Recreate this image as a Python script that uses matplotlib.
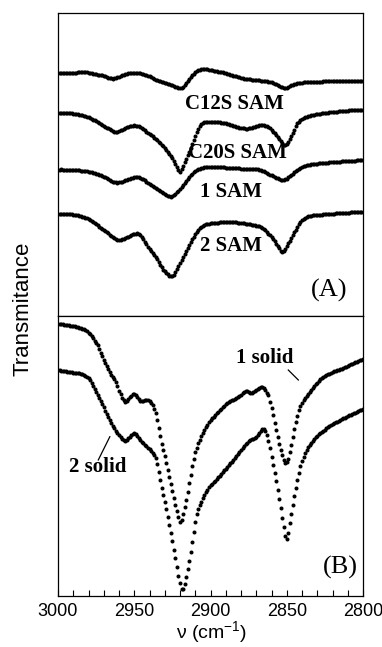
import numpy as np
import matplotlib
matplotlib.use('Agg')
import matplotlib.pyplot as plt

# wavenumber axis (cm-1), one point per cm-1
wavenumber = list(range(3000, 2799, -1))

# Panel A: SAM spectra (transmittance, arbitrary units, offset)
c12s_sam = [
    243.0, 243.0, 243.2, 243.0, 242.8, 243.0, 243.2, 243.0, 243.0, 243.2,
    243.0, 243.2, 243.4, 243.6, 243.8, 244.0, 244.0, 243.9, 243.8, 243.6,
    243.5, 243.2, 242.8, 242.4, 242.0, 241.6, 241.3, 241.1, 241.0, 240.6,
    240.1, 239.6, 239.0, 238.5, 238.0, 237.7, 237.5, 237.6, 238.0, 238.6,
    239.3, 240.0, 240.8, 241.4, 242.0, 242.5, 242.9, 243.2, 243.4, 243.5,
    243.5, 243.4, 243.2, 243.0, 242.6, 242.2, 241.8, 241.5, 241.0, 240.4,
    239.8, 239.0, 238.2, 237.2, 236.5, 236.0, 235.5, 235.0, 234.5, 234.0,
    233.5, 233.0, 232.5, 232.0, 231.3, 230.6, 229.9, 229.2, 228.6, 228.0,
    227.8, 228.2, 229.5, 231.3, 233.2, 235.1, 237.0, 238.9, 240.7, 242.4,
    244.0, 245.0, 245.8, 246.5, 247.0, 247.2, 247.2, 247.0, 246.7, 246.4,
    246.0, 245.7, 245.4, 245.1, 244.8, 244.5, 244.2, 244.0, 243.6, 243.1,
    242.7, 242.2, 241.8, 241.3, 240.9, 240.5, 240.1, 239.6, 239.2, 238.7,
    238.3, 237.9, 237.5, 237.3, 237.1, 236.9, 236.7, 236.5, 236.3, 236.1,
    236.0, 235.8, 235.6, 235.4, 235.2, 235.0, 234.8, 234.6, 234.5, 234.1,
    233.6, 233.0, 232.3, 231.6, 231.0, 230.2, 229.4, 228.6, 228.0, 228.0,
    228.5, 229.2, 230.0, 230.6, 231.2, 231.7, 232.2, 232.6, 233.0, 233.2,
    233.4, 233.6, 233.7, 233.8, 233.9, 234.0, 234.1, 234.2, 234.3, 234.3,
    234.4, 234.4, 234.5, 234.5, 234.6, 234.6, 234.7, 234.7, 234.8, 234.8,
    234.8, 234.9, 234.9, 235.0, 235.0, 235.0, 235.1, 235.1, 235.2, 235.2,
    235.2, 235.3, 235.3, 235.3, 235.4, 235.4, 235.4, 235.5, 235.5, 235.5,
    235.5]

c20s_sam = [
    203.5, 203.5, 203.4, 203.3, 203.2, 203.0, 202.9, 202.8, 202.7, 202.6,
    202.5, 202.3, 202.0, 201.7, 201.4, 201.1, 200.7, 200.4, 200.0, 199.4,
    198.8, 198.1, 197.3, 196.5, 195.8, 195.0, 194.1, 193.2, 192.2, 191.3,
    190.3, 189.4, 188.5, 187.6, 186.6, 185.6, 184.7, 184.0, 184.0, 184.3,
    184.9, 185.7, 186.5, 187.3, 188.0, 188.8, 189.5, 190.0, 190.3, 190.5,
    190.6, 190.5, 190.4, 190.0, 189.0, 188.0, 187.0, 185.8, 184.5, 183.3,
    182.0, 180.8, 179.6, 178.4, 177.2, 176.0, 174.4, 172.8, 171.2, 169.6,
    168.0, 166.0, 164.0, 162.0, 160.0, 158.0, 155.5, 152.5, 149.5, 146.5,
    144.5, 147.0, 150.5, 154.0, 157.5, 161.0, 164.5, 168.0, 172.0, 176.0,
    180.0, 184.0, 187.5, 190.0, 192.0, 193.2, 194.0, 194.4, 194.5, 194.5,
    194.4, 194.3, 194.2, 194.1, 194.0, 194.0, 193.8, 193.5, 193.2, 192.9,
    192.6, 192.3, 192.0, 191.5, 191.0, 190.5, 190.0, 189.5, 189.0, 188.5,
    188.0, 187.8, 187.6, 187.5, 187.5, 187.6, 188.0, 188.5, 189.0, 189.5,
    190.0, 190.4, 190.7, 190.9, 191.0, 190.8, 190.3, 189.7, 189.0, 187.6,
    186.0, 184.5, 183.0, 181.0, 179.0, 177.0, 175.0, 173.0, 171.5, 171.2,
    172.0, 174.0, 177.0, 180.0, 183.0, 186.3, 189.7, 193.0, 194.5, 195.8,
    196.9, 198.0, 199.0, 199.5, 200.0, 200.4, 200.8, 201.1, 201.4, 201.7,
    202.0, 202.2, 202.4, 202.6, 202.8, 203.0, 203.2, 203.4, 203.6, 203.8,
    204.0, 204.1, 204.3, 204.4, 204.6, 204.7, 204.9, 205.0, 205.2, 205.3,
    205.5, 205.6, 205.7, 205.8, 205.9, 206.0, 206.1, 206.2, 206.3, 206.4,
    206.5]

sam_1 = [
    146.5, 146.5, 146.6, 146.5, 146.4, 146.3, 146.3, 146.2, 146.2, 146.1,
    146.0, 145.9, 145.8, 145.7, 145.6, 145.5, 145.3, 145.1, 144.9, 144.7,
    144.5, 144.1, 143.7, 143.3, 142.9, 142.5, 142.0, 141.5, 141.0, 140.2,
    139.4, 138.6, 137.8, 137.0, 136.0, 135.2, 134.5, 134.0, 133.6, 133.5,
    133.6, 134.0, 134.5, 135.1, 135.8, 136.5, 137.0, 137.5, 138.0, 138.5,
    138.9, 139.0, 138.9, 138.6, 138.0, 137.4, 136.7, 135.6, 134.4, 133.3,
    132.2, 131.1, 130.0, 129.0, 128.0, 127.0, 126.0, 125.0, 124.0, 123.0,
    122.0, 121.0, 120.2, 119.6, 119.4, 119.8, 120.7, 122.0, 123.7, 125.5,
    127.3, 129.2, 131.2, 133.2, 135.2, 137.1, 139.0, 140.8, 142.5, 144.0,
    145.2, 146.1, 146.8, 147.4, 147.9, 148.3, 148.6, 148.8, 148.9, 149.0,
    149.0, 149.0, 149.0, 148.9, 148.9, 148.8, 148.8, 148.7, 148.6, 148.6,
    148.5, 148.4, 148.3, 148.2, 148.1, 148.0, 147.9, 147.8, 147.7, 147.6,
    147.5, 147.5, 147.4, 147.4, 147.3, 147.3, 147.2, 147.2, 147.1, 147.1,
    147.0, 146.7, 146.3, 145.8, 145.2, 144.6, 144.0, 143.2, 142.3, 141.4,
    140.6, 140.0, 139.4, 138.5, 137.6, 136.8, 136.1, 135.8, 136.0, 136.6,
    137.5, 138.6, 139.8, 141.0, 142.4, 143.8, 145.0, 146.2, 147.3, 148.3,
    149.2, 150.0, 150.5, 150.9, 151.2, 151.5, 151.7, 151.9, 152.1, 152.3,
    152.5, 152.6, 152.8, 152.9, 153.0, 153.2, 153.3, 153.4, 153.6, 153.7,
    153.8, 154.0, 154.1, 154.2, 154.4, 154.5, 154.6, 154.7, 154.8, 154.9,
    155.0, 155.1, 155.2, 155.3, 155.4, 155.5, 155.6, 155.7, 155.8, 155.9,
    156.0]

sam_2 = [
    102.5, 102.5, 102.4, 102.3, 102.2, 102.1, 102.0, 101.9, 101.8, 101.7,
    101.5, 101.3, 101.1, 100.8, 100.5, 100.0, 99.5, 99.0, 98.5, 98.0,
    97.5, 96.5, 95.5, 94.5, 93.5, 92.2, 90.9, 89.5, 88.4, 87.3,
    86.2, 85.1, 84.0, 82.8, 81.5, 80.2, 79.0, 78.0, 77.0, 76.2,
    75.9, 76.2, 76.8, 77.5, 78.2, 78.9, 79.5, 80.2, 80.9, 81.6,
    82.2, 82.5, 82.6, 82.0, 80.8, 79.0, 76.8, 74.4, 71.8, 69.4,
    67.2, 65.0, 63.0, 61.0, 59.0, 56.6, 54.0, 51.2, 48.6, 46.5,
    44.7, 43.1, 41.7, 40.5, 39.7, 39.8, 41.2, 43.6, 46.6, 49.8,
    53.0, 56.0, 59.0, 62.0, 65.0, 68.0, 71.0, 74.0, 77.0, 79.5,
    82.0, 84.2, 86.2, 88.0, 89.3, 90.3, 91.0, 91.6, 92.0, 92.3,
    92.6, 92.8, 93.0, 93.2, 93.4, 93.5, 93.6, 93.7, 93.8, 93.9,
    93.9, 94.0, 94.0, 94.0, 94.0, 93.9, 93.8, 93.6, 93.4, 93.2,
    93.0, 92.8, 92.6, 92.3, 92.1, 91.8, 91.6, 91.3, 91.0, 90.8,
    90.5, 90.2, 89.9, 89.3, 88.5, 87.5, 86.0, 84.3, 82.5, 80.7,
    79.0, 77.0, 74.8, 72.4, 70.0, 67.6, 65.4, 64.5, 65.5, 67.5,
    70.0, 72.6, 75.3, 78.0, 80.8, 83.6, 86.4, 89.2, 91.8, 94.0,
    95.8, 97.2, 98.2, 99.0, 99.6, 100.0, 100.3, 100.6, 100.8, 101.0,
    101.2, 101.3, 101.4, 101.5, 101.6, 101.8, 101.9, 102.0, 102.1, 102.2,
    102.4, 102.5, 102.6, 102.7, 102.8, 102.9, 103.0, 103.1, 103.2, 103.3,
    103.4, 103.5, 103.6, 103.7, 103.8, 103.9, 104.0, 104.1, 104.2, 104.3,
    104.5]

# Panel B: solid spectra
solid_1 = [
    272.5, 272.3, 272.0, 271.8, 271.5, 271.3, 271.0, 270.8, 270.5, 270.3,
    270.0, 269.8, 269.5, 269.0, 268.5, 268.0, 267.5, 267.0, 266.5, 265.0,
    263.5, 261.8, 260.0, 257.8, 255.5, 253.3, 251.0, 247.2, 243.5, 239.7,
    236.0, 233.0, 230.0, 227.0, 224.2, 221.5, 219.2, 217.0, 214.0, 210.0,
    205.5, 201.8, 198.0, 195.8, 194.5, 195.5, 197.2, 199.0, 200.5, 201.7,
    202.5, 201.0, 199.0, 197.0, 195.5, 195.0, 195.3, 195.8, 196.2, 196.0,
    195.0, 193.5, 191.0, 187.5, 183.0, 176.0, 168.0, 160.0, 152.0, 146.0,
    140.0, 133.0, 126.0, 119.0, 112.0, 105.0, 98.0, 91.5, 85.0, 79.5,
    74.5, 76.5, 82.0, 89.0, 96.0, 104.5, 113.0, 121.5, 130.0, 137.0,
    144.0, 148.5, 153.0, 156.5, 160.0, 163.0, 166.0, 168.8, 171.5, 174.0,
    176.0, 177.8, 179.5, 181.3, 183.0, 184.5, 186.0, 187.5, 189.0, 190.5,
    192.0, 193.0, 193.9, 194.8, 195.6, 196.5, 197.5, 198.5, 199.5, 200.5,
    201.5, 203.0, 204.5, 205.5, 205.0, 204.0, 203.3, 203.0, 204.0, 205.3,
    206.5, 207.5, 208.3, 209.0, 209.0, 208.0, 206.0, 203.5, 201.0, 194.5,
    188.0, 181.0, 173.5, 166.0, 159.0, 152.5, 146.5, 141.0, 136.5, 133.0,
    134.0, 137.5, 144.0, 151.0, 159.0, 167.0, 174.3, 180.5, 186.0, 190.5,
    193.5, 196.0, 198.0, 200.0, 202.0, 204.0, 206.0, 208.0, 209.8, 211.6,
    213.4, 215.2, 217.0, 218.0, 219.0, 220.0, 221.0, 221.8, 222.5, 223.3,
    224.0, 224.8, 225.5, 226.0, 226.5, 227.0, 227.5, 228.0, 228.7, 229.4,
    230.1, 230.9, 231.6, 232.3, 233.0, 233.7, 234.3, 235.0, 235.7, 236.3,
    237.0]

solid_2 = [
    226.0, 225.8, 225.5, 225.3, 225.0, 224.8, 224.5, 224.3, 224.0, 223.8,
    223.5, 223.2, 223.0, 222.8, 222.6, 222.4, 222.0, 221.2, 220.2, 219.0,
    218.0, 216.0, 213.5, 210.5, 207.5, 204.5, 201.5, 198.5, 195.5, 192.5,
    189.0, 185.5, 182.0, 179.0, 176.0, 173.0, 170.5, 168.0, 165.5, 163.0,
    161.0, 159.0, 157.3, 156.0, 155.5, 156.5, 158.0, 159.5, 161.0, 162.2,
    162.7, 162.0, 160.5, 158.5, 156.3, 154.3, 152.6, 151.0, 149.7, 148.5,
    147.0, 145.5, 143.5, 141.0, 138.0, 132.0, 124.0, 116.0, 108.0, 101.0,
    94.0, 87.0, 79.5, 71.0, 63.0, 55.0, 46.5, 38.0, 29.0, 20.5,
    13.0, 7.5, 7.0, 12.0, 19.0, 27.0, 35.5, 44.5, 54.0, 64.0,
    74.0, 82.5, 87.5, 91.0, 94.5, 97.8, 101.0, 104.0, 106.5, 108.8,
    111.0, 112.5, 114.0, 115.5, 117.0, 118.8, 120.5, 122.2, 124.0, 125.8,
    127.5, 129.2, 131.0, 132.8, 134.5, 136.3, 138.2, 140.2, 142.3, 144.5,
    146.5, 148.5, 150.3, 152.0, 153.5, 155.0, 156.2, 157.0, 157.5, 158.0,
    159.5, 161.5, 163.5, 165.5, 167.5, 167.5, 165.5, 161.5, 155.0, 148.0,
    139.5, 131.0, 123.0, 115.0, 106.0, 97.0, 88.0, 78.5, 69.0, 60.0,
    57.0, 63.5, 73.5, 82.0, 91.0, 100.0, 108.5, 116.5, 123.5, 130.0,
    135.5, 139.5, 143.0, 146.0, 148.8, 151.3, 153.5, 155.5, 157.3, 159.0,
    160.5, 161.8, 163.0, 164.2, 165.4, 166.5, 167.6, 168.7, 169.8, 170.9,
    172.0, 172.8, 173.6, 174.4, 175.2, 176.0, 176.8, 177.6, 178.4, 179.2,
    180.0, 180.7, 181.4, 182.1, 182.8, 183.5, 184.2, 184.9, 185.6, 186.3,
    187.0]

plt.rcParams['mathtext.fontset'] = 'custom'
plt.rcParams['mathtext.rm'] = 'Liberation Sans'
plt.rcParams['mathtext.default'] = 'regular'

fig = plt.figure(figsize=(3.82, 6.47), dpi=100)
ax_a = fig.add_axes([58 / 382, 1 - 316 / 647, 305 / 382, 303 / 647])
ax_b = fig.add_axes([58 / 382, 1 - 596 / 647, 305 / 382, 280 / 647])

dots = dict(linestyle='none', marker='o', markersize=2.9, markeredgewidth=0, color='black')
for y in (c12s_sam, c20s_sam, sam_1, sam_2):
    ax_a.plot(wavenumber, y, **dots)
for y in (solid_1, solid_2):
    ax_b.plot(wavenumber, y, **dots)

for ax in (ax_a, ax_b):
    ax.set_xlim(3000, 2800)
    ax.set_yticks([])
    for s in ax.spines.values():
        s.set_linewidth(0.9)
ax_a.set_ylim(0, 303)
ax_b.set_ylim(0, 280)
ax_a.set_xticks([])

ax_b.set_xticks(range(3000, 2799, -50))
ax_b.set_xticks(range(3000, 2799, -10), minor=True)
ax_b.tick_params(axis='x', which='both', direction='in', length=4, width=0.8, top=False)
ax_b.tick_params(axis='x', which='major', pad=5)
for lab in ax_b.get_xticklabels():
    lab.set_family(['Liberation Sans Narrow', 'Liberation Sans'])
    lab.set_fontsize(13)

fig.text(212 / 382, 1 - 632 / 647, r'ν (cm$^{-1}$)', ha='center', va='center',
         fontsize=14, family='Liberation Sans')
fig.text(23 / 382, 1 - 309 / 647, 'Transmitance', rotation=90, ha='center', va='center',
         fontsize=16, family='Liberation Sans')

lbl = dict(family='Liberation Serif', weight='bold', fontsize=15, ha='center', va='center')
ax_a.text(2884, 212.5, 'C12S SAM', **lbl)
ax_a.text(2882.5, 163.5, 'C20S SAM', **lbl)
ax_a.text(2886.5, 124.5, '1 SAM', **lbl)
ax_a.text(2886.5, 70.5, '2 SAM', **lbl)
ax_a.text(2822, 26, '(A)', family='Liberation Serif', fontsize=19, ha='center', va='center')

ax_b.text(2864.5, 238.5, '1 solid', **lbl)
ax_b.text(2974, 128.5, '2 solid', **lbl)
ax_b.plot([2849, 2842.4], [226, 216], color='black', lw=0.9)
ax_b.plot([2966, 2973.6], [159.3, 136], color='black', lw=0.9)
ax_b.text(2815, 29, '(B)', family='Liberation Serif', fontsize=19, ha='center', va='center')

fig.savefig('out.png', dpi=100)
